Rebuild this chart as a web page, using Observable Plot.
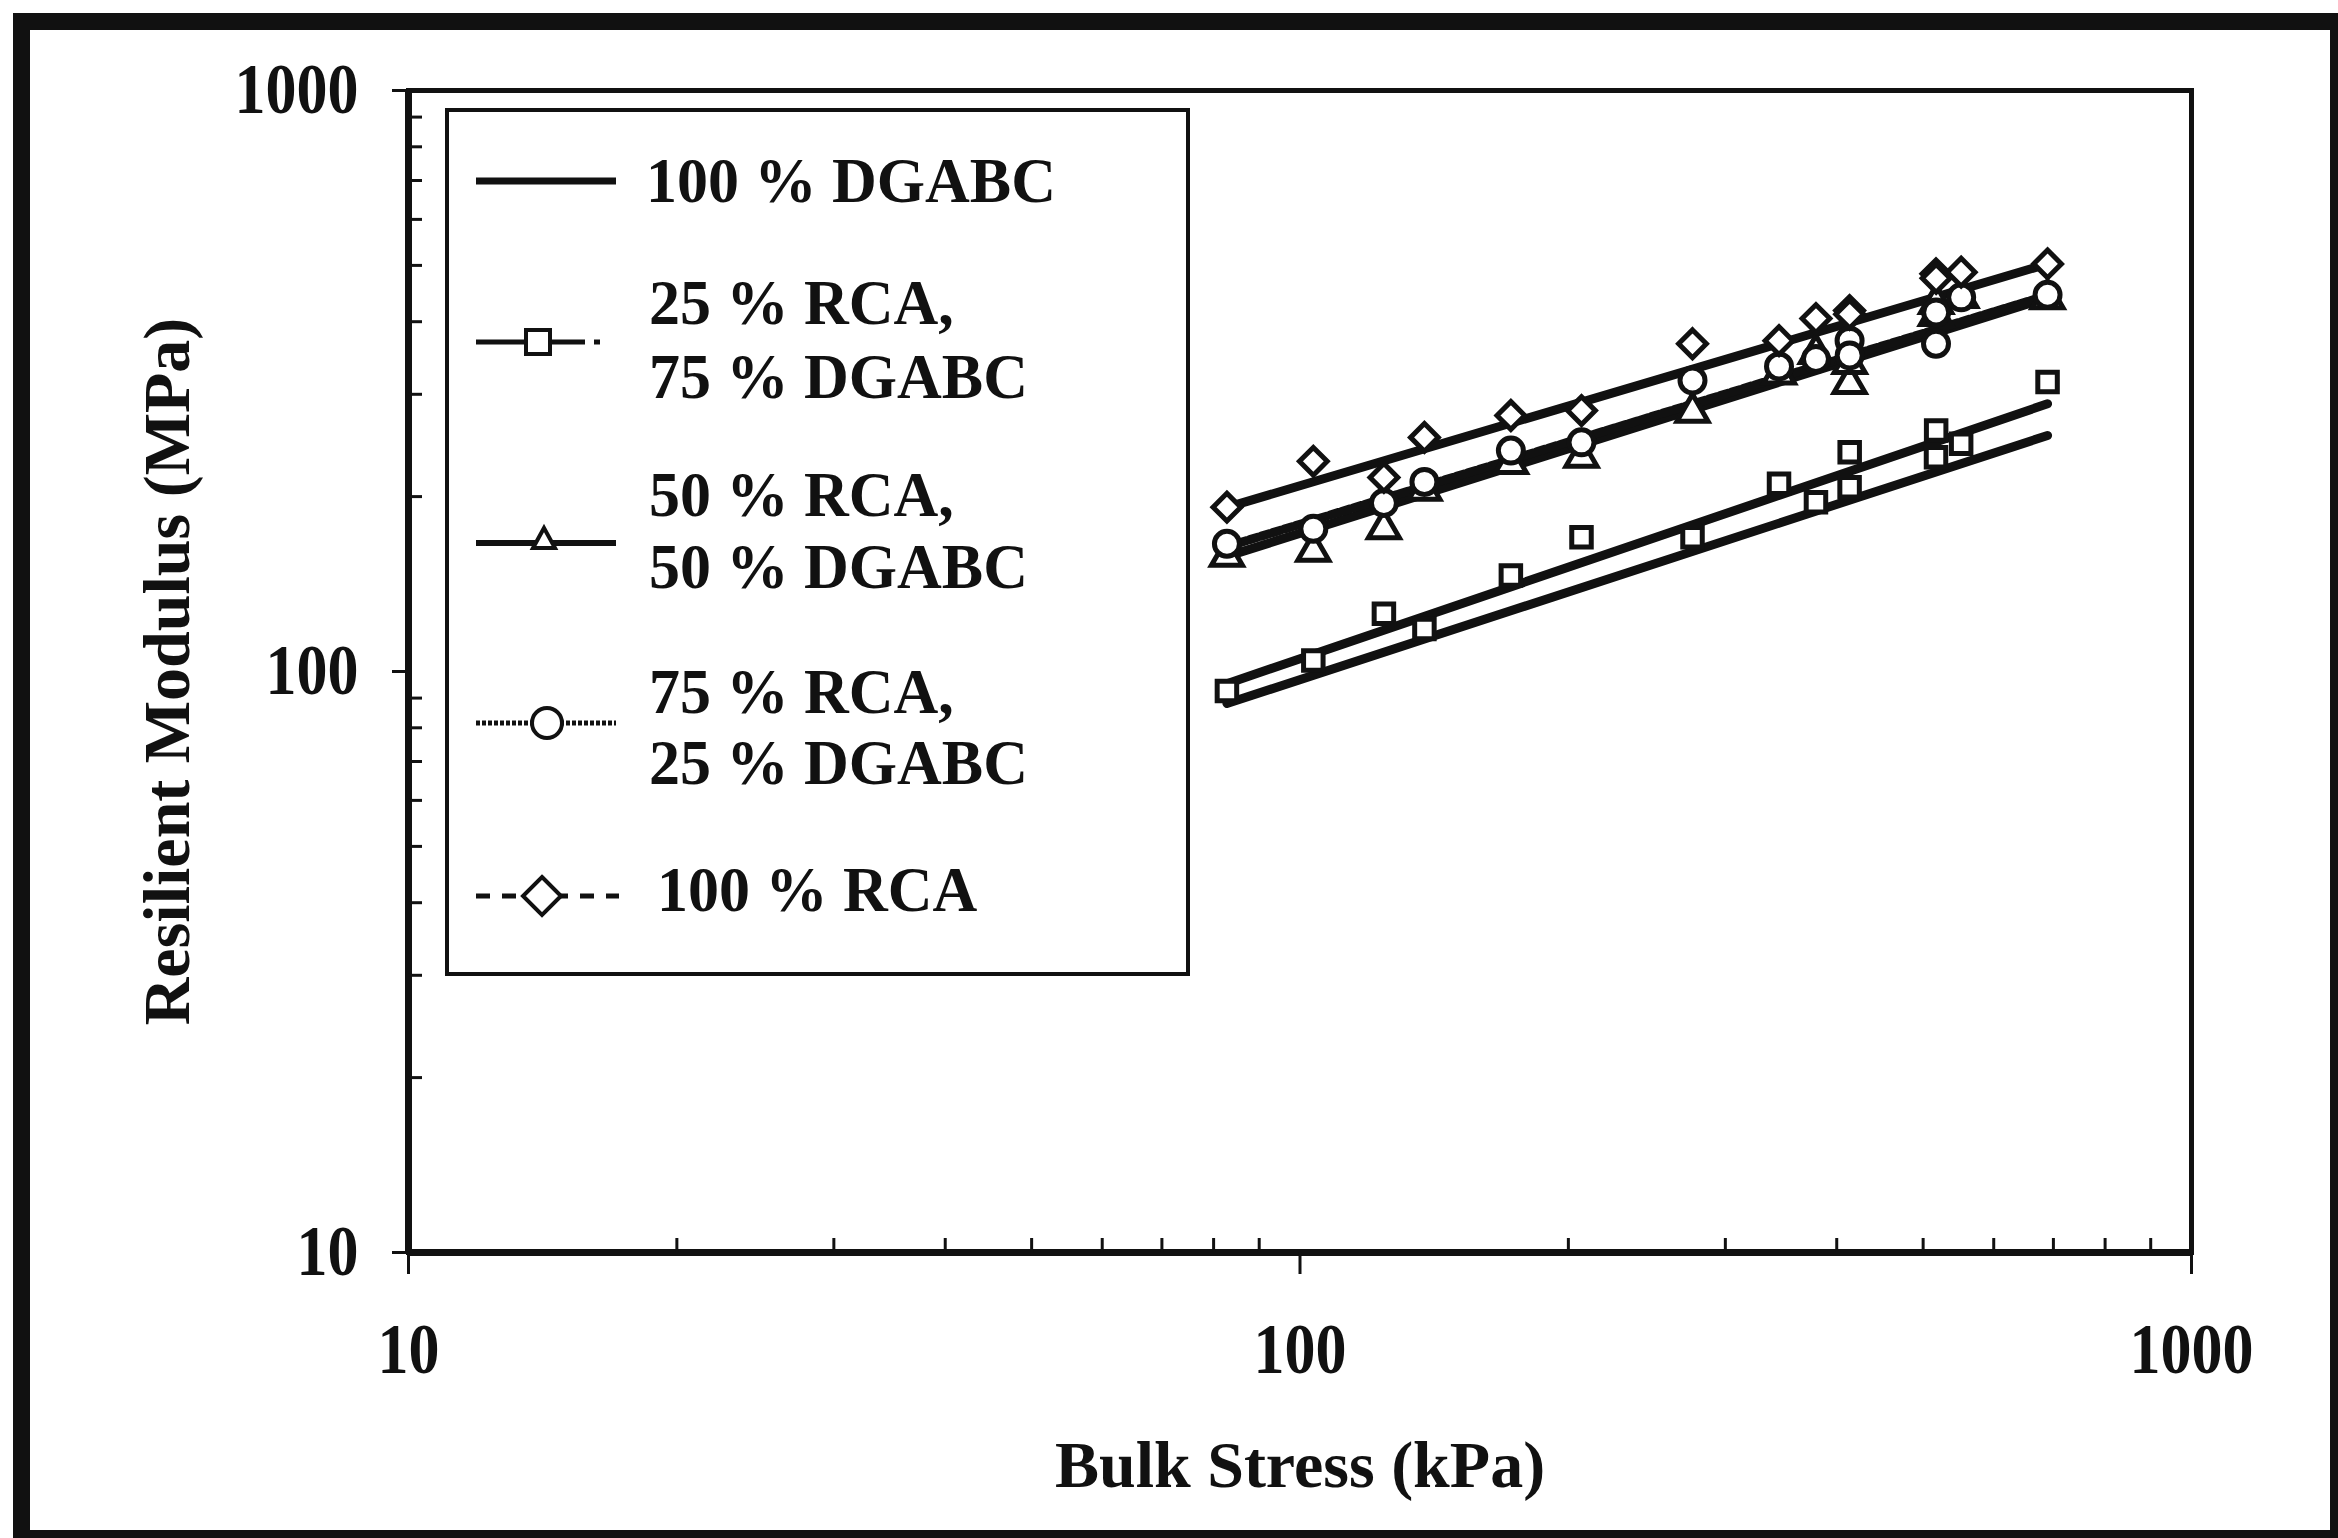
<!DOCTYPE html>
<html>
<head>
<meta charset="utf-8">
<script src="https://cdn.jsdelivr.net/npm/d3@7"></script>
<script src="https://cdn.jsdelivr.net/npm/@observablehq/plot@0.6"></script>
<style>
  html, body { margin: 0; padding: 0; background: #fff; }
  body { width: 2338px; height: 1538px; position: relative; overflow: hidden; font-family: "Liberation Serif", "Times New Roman", serif; }
  #outer { position: absolute; left: 13px; top: 13px; width: 2300px; height: 1500px; border: 17px solid #111; box-sizing: content-box; }
  #chart { position: absolute; left: 0; top: 0; }
  #legend { position: absolute; left: 445px; top: 108px; width: 737px; height: 860px; border: 4px solid #111; background: #fff; }
  .lt { position: absolute; font-size: 62px; font-weight: bold; color: #111; white-space: nowrap; transform-origin: left top; }
  .ls { position: absolute; left: 0; top: 0; overflow: visible; }
</style>
</head>
<body>
<div id="outer"></div>
<div id="chart"></div>
<div id="legend"></div>
<script>
// ---- data ----
const stress = [82.8, 103.5, 124.2, 137.9, 172.4, 206.9, 275.6, 344.6, 379.1, 413.5, 413.6, 516.9, 517.1, 551.6, 689.5];
const rca25  = [92.6, 104.5, 125.7, 118.4, 146.3, 170.3, 170.3, 210.4, 195.6, 207.6, 238.5, 233.8, 259.9, 246.6, 314.9];
const rca50  = [157.8, 161, 176, 205, 228, 233.8, 279.4, 325, 352.6, 313, 338.8, 410, 430, 440, 438];
const rca75  = [165.9, 176, 195, 212, 240, 248, 316.9, 335, 345, 371, 350, 366.5, 415, 440.6, 445];
const rca100 = [191.8, 230, 215.8, 252.9, 275.8, 281.2, 366.5, 371, 405, 418, 412, 483.6, 475, 486.8, 503];

// fitted power-law lines (end points)
const fitX      = [82.8, 689.5];
const fitDGABC  = [88.1, 254.8];
const fitRCA25  = [95.3, 288.9];
const fitRCA50  = [157.8, 440];
const fitRCA75  = [164, 444];
const fitRCA100 = [191.6, 503];

const majorTicks = [10, 100, 1000];
const minorTicks = [20, 30, 40, 50, 60, 70, 80, 90, 200, 300, 400, 500, 600, 700, 800, 900];

const legendLabels = [
  ["100 % DGABC"],
  ["25 % RCA,", "75 % DGABC"],
  ["50 % RCA,", "50 % DGABC"],
  ["75 % RCA,", "25 % DGABC"],
  ["100 % RCA"]
];

// ---- chart ----
const W = 2338, H = 1538;
const mL = 408, mR = 147, mT = 90, mB = 286;
const plotW = W - mL - mR, plotH = H - mT - mB;
const font = "Liberation Serif, Times New Roman, serif";
const ink = "#111";

const lineW = 9, dotSW = 5;

const chart = Plot.plot({
  width: W,
  height: H,
  marginLeft: mL, marginRight: mR, marginTop: mT, marginBottom: mB,
  style: { fontFamily: font, background: "transparent", color: ink },
  x: { type: "log", domain: [10, 1000], axis: null },
  y: { type: "log", domain: [10, 1000], axis: null },
  marks: [
    Plot.frame({ stroke: ink, strokeWidth: 5 }),
    Plot.ruleX([10], { stroke: ink, strokeWidth: 7 }),
    Plot.ruleY([10], { stroke: ink, strokeWidth: 7 }),
    Plot.tickX(minorTicks, { x: d => d, stroke: ink, strokeWidth: 3, insetTop: plotH - 14 }),
    Plot.tickY(minorTicks, { y: d => d, stroke: ink, strokeWidth: 3, insetRight: plotW - 14 }),
    Plot.axisX(majorTicks, { anchor: "bottom", tickSize: 22, tickPadding: 48, strokeWidth: 3, fontSize: 62, fontWeight: "bold", tickFormat: d => String(d), label: null }),
    Plot.axisY(majorTicks, { anchor: "left", tickSize: 16, tickPadding: 34, strokeWidth: 3, fontSize: 62, fontWeight: "bold", tickFormat: d => String(d), label: null }),
    Plot.text(["Bulk Stress (kPa)"], { frameAnchor: "bottom", dy: 213, textAnchor: "middle", lineAnchor: "middle", fontSize: 66, fontWeight: "bold", fill: ink }),
    Plot.text(["Resilient Modulus (MPa)"], { frameAnchor: "left", dx: -241, rotate: -90, textAnchor: "middle", lineAnchor: "middle", fontSize: 66, fontWeight: "bold", fill: ink }),
    // fit lines
    Plot.line(fitX, { x: fitX, y: fitDGABC, stroke: ink, strokeWidth: lineW }),
    Plot.line(fitX, { x: fitX, y: fitRCA25, stroke: ink, strokeWidth: lineW }),
    Plot.line(fitX, { x: fitX, y: fitRCA50, stroke: ink, strokeWidth: lineW }),
    Plot.line(fitX, { x: fitX, y: fitRCA75, stroke: ink, strokeWidth: lineW, strokeDasharray: "9,3" }),
    Plot.line(fitX, { x: fitX, y: fitRCA100, stroke: ink, strokeWidth: lineW }),
    // data points
    Plot.dot(rca25, { x: stress, y: rca25, symbol: "square", r: 11, fill: "white", stroke: ink, strokeWidth: dotSW }),
    Plot.dot(rca50, { x: stress, y: rca50, symbol: "triangle", r: 11.5, fill: "white", stroke: ink, strokeWidth: dotSW }),
    Plot.dot(rca75, { x: stress, y: rca75, symbol: "circle", r: 12.5, fill: "white", stroke: ink, strokeWidth: dotSW }),
    Plot.dot(rca100, { x: stress, y: rca100, symbol: "diamond2", r: 12.5, fill: "white", stroke: ink, strokeWidth: dotSW })
  ]
});
document.getElementById("chart").appendChild(chart);

// stretch tick labels vertically (the reference glyphs are tall)
function stretch(t, s) {
  let tr = t.getAttribute("transform") || "";
  const xa = t.getAttribute("x"), ya = t.getAttribute("y");
  const numX = xa != null && /^-?[\d.]+$/.test(xa), numY = ya != null && /^-?[\d.]+$/.test(ya);
  if (numX || numY) {
    tr += ` translate(${numX ? +xa : 0},${numY ? +ya : 0})`;
    if (numX) t.removeAttribute("x");
    if (numY) t.removeAttribute("y");
  }
  t.setAttribute("transform", `${tr} scale(1,${s})`);
}
chart.querySelectorAll('g[aria-label="x-axis tick label"] text, g[aria-label="y-axis tick label"] text').forEach(t => stretch(t, 1.15));

// ---- legend (HTML, inside plot area) ----
const legend = document.getElementById("legend");
const NS = "http://www.w3.org/2000/svg";
const sym = document.createElementNS(NS, "svg");
sym.setAttribute("class", "ls");
sym.setAttribute("width", 737);
sym.setAttribute("height", 860);
legend.appendChild(sym);
function el(name, attrs) {
  const e = document.createElementNS(NS, name);
  for (const k in attrs) e.setAttribute(k, attrs[k]);
  sym.appendChild(e);
  return e;
}
const rowY = [69, 230, 431, 611, 784];
// row 1: solid
el("line", { x1: 27, x2: 167, y1: rowY[0], y2: rowY[0], stroke: ink, "stroke-width": 7 });
// row 2: dash with square
el("line", { x1: 27, x2: 136, y1: rowY[1], y2: rowY[1], stroke: ink, "stroke-width": 5 });
el("line", { x1: 145, x2: 151, y1: rowY[1], y2: rowY[1], stroke: ink, "stroke-width": 5 });
el("rect", { x: 77, y: rowY[1] - 12, width: 24, height: 24, fill: "white", stroke: ink, "stroke-width": 4 });
// row 3: solid with triangle
el("line", { x1: 27, x2: 167, y1: rowY[2], y2: rowY[2], stroke: ink, "stroke-width": 6 });
el("path", { d: `M95,${rowY[2] - 15} L106,${rowY[2] + 5} L84,${rowY[2] + 5} Z`, fill: "white", stroke: ink, "stroke-width": 4 });
// row 4: dotted with circle
el("line", { x1: 27, x2: 167, y1: rowY[3], y2: rowY[3], stroke: ink, "stroke-width": 5, "stroke-dasharray": "4,2" });
el("circle", { cx: 98, cy: rowY[3], r: 15, fill: "white", stroke: ink, "stroke-width": 4 });
// row 5: dashed with diamond
el("line", { x1: 27, x2: 170, y1: rowY[4], y2: rowY[4], stroke: ink, "stroke-width": 5, "stroke-dasharray": "14,12" });
el("path", { d: `M93,${rowY[4] - 19} L112,${rowY[4]} L93,${rowY[4] + 19} L74,${rowY[4]} Z`, fill: "white", stroke: ink, "stroke-width": 4 });

// one text block per entry (multi-line entries kept in one element)
const firstBaseline = [90, 213, 405, 601, 799];
const lineGap = [73, 74, 72, 71, 73];
const textX = [197, 200, 200, 200, 208];
const sY = 1.03, fs = 62;
legendLabels.forEach((lines, i) => {
  const d = document.createElement("div");
  d.className = "lt";
  d.style.transform = `scaleY(${sY})`;
  const L = lineGap[i] / sY;                 // unscaled line height
  d.style.lineHeight = L + "px";
  d.innerHTML = lines.map(s => s.replace(/&/g, "&amp;").replace(/</g, "&lt;")).join("<br>");
  d.style.left = textX[i] + "px";
  const baseOff = sY * ((L - fs * 1.107) / 2 + fs * 0.891);
  d.style.top = (firstBaseline[i] - baseOff) + "px";
  legend.appendChild(d);
});
</script>
</body>
</html>
